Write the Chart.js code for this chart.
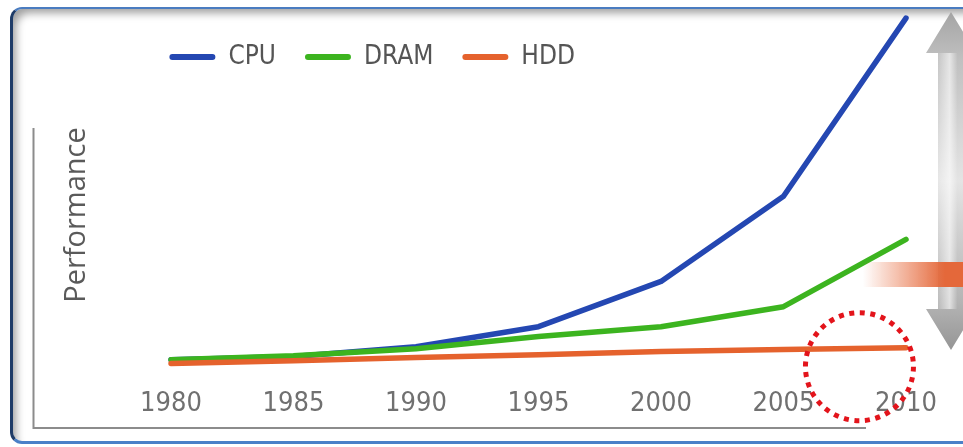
<!DOCTYPE html>
<html>
<head>
<meta charset="utf-8">
<script src="https://cdn.jsdelivr.net/npm/chart.js@4.4.1/dist/chart.umd.min.js"></script>
<style>
  html, body { margin: 0; padding: 0; background: #fff; overflow: hidden; width: 963px; height: 447px; }
  #frame {
    position: absolute; left: 10px; top: 7px; width: 1000px; height: 432px;
    border-top: 2px solid #4a7cc0; border-left: 3px solid #1f3c68; border-bottom: 3px solid #4a80c8;
    border-radius: 12px; background: #fff;
    box-shadow: inset 7px 8px 9px -4px rgba(0, 0, 0, 0.38);
  }
  #c { position: absolute; left: 0; top: 0; }
</style>
</head>
<body>
<div id="frame"></div>
<canvas id="c" width="963" height="447"></canvas>
<script>
// Years on the horizontal axis
const years = [1980, 1985, 1990, 1995, 2000, 2005, 2010];
// Relative performance of each component
const cpu  = [2.0, 2.9, 5.7, 11.4, 24.3, 48.6, 99.4];
const dram = [2.0, 3.1, 5.1, 8.6, 11.4, 17.1, 36.3];
const hdd  = [0.9, 1.7, 2.6, 3.4, 4.3, 4.9, 5.4];
const seriesNames  = ['CPU', 'DRAM', 'HDD'];
const seriesColors = ['#2447b2', '#3cb41f', '#e5622d'];
const axisTitle = 'Performance';

const condensed = "'DejaVu Sans Condensed', 'DejaVu Sans', sans-serif";

function toPoints(values) {
  return values.map((v, i) => ({ x: years[i], y: v }));
}

function makeDataset(idx, values, order) {
  return {
    label: seriesNames[idx],
    data: toPoints(values),
    borderColor: seriesColors[idx],
    backgroundColor: seriesColors[idx],
    borderWidth: 5.5,
    borderCapStyle: 'round',
    borderJoinStyle: 'round',
    pointRadius: 0,
    pointHoverRadius: 0,
    tension: 0,
    fill: false,
    clip: false,
    order: order
  };
}

function arrowPath(ctx, cx, top, bottom, headW, shaftW, headH) {
  ctx.beginPath();
  ctx.moveTo(cx, top);
  ctx.lineTo(cx + headW / 2, top + headH);
  ctx.lineTo(cx + shaftW / 2, top + headH);
  ctx.lineTo(cx + shaftW / 2, bottom - headH);
  ctx.lineTo(cx + headW / 2, bottom - headH);
  ctx.lineTo(cx, bottom);
  ctx.lineTo(cx - headW / 2, bottom - headH);
  ctx.lineTo(cx - shaftW / 2, bottom - headH);
  ctx.lineTo(cx - shaftW / 2, top + headH);
  ctx.lineTo(cx - headW / 2, top + headH);
  ctx.closePath();
}

// The legend row sits over the top of the plot: it takes almost no layout
// height, so widen its clip box back to the full row after layout.
const legendOverlay = {
  id: 'legendOverlay',
  afterLayout(chart) {
    const lg = chart.legend;
    if (lg) lg.bottom = lg.top + 80;
  }
};

// Framing lines, the double arrow, the highlight band and the dotted ring
const decorations = {
  id: 'decorations',
  beforeDatasetsDraw(chart) {
    const ctx = chart.ctx;
    ctx.save();
    ctx.strokeStyle = '#8c8c8c';
    ctx.lineWidth = 2;
    ctx.beginPath();
    ctx.moveTo(33.5, 128);
    ctx.lineTo(33.5, 428);
    ctx.lineTo(866, 428);
    ctx.stroke();
    ctx.restore();
  },
  afterDatasetsDraw(chart) {
    const ctx = chart.ctx;
    const { x, y } = chart.scales;
    ctx.save();

    // double-headed arrow
    const top = 12, bottom = 350, cx = 951;
    const vg = ctx.createLinearGradient(0, top, 0, bottom);
    vg.addColorStop(0, '#a4a4a4');
    vg.addColorStop(0.14, '#c0c0c0');
    vg.addColorStop(0.5, '#e4e4e4');
    vg.addColorStop(0.86, '#b4b4b4');
    vg.addColorStop(1, '#959595');
    arrowPath(ctx, cx, top, bottom, 50, 26, 41);
    ctx.fillStyle = vg;
    ctx.fill();
    const hg = ctx.createLinearGradient(cx - 13, 0, cx + 13, 0);
    hg.addColorStop(0, 'rgba(255,255,255,0.1)');
    hg.addColorStop(0.45, 'rgba(255,255,255,0.6)');
    hg.addColorStop(0.75, 'rgba(255,255,255,0)');
    ctx.fillStyle = hg;
    ctx.fillRect(cx - 13, top + 41, 26, bottom - top - 82);

    // fading highlight band
    const bg = ctx.createLinearGradient(863, 0, 945, 0);
    bg.addColorStop(0, 'rgba(232,106,60,0)');
    bg.addColorStop(1, 'rgba(228,104,58,1)');
    ctx.fillStyle = bg;
    ctx.fillRect(863, 262, 100, 25);

    // dotted ring
    ctx.beginPath();
    ctx.arc(x.getPixelForValue(2008.1), y.getPixelForValue(0), 54, 0, Math.PI * 2);
    ctx.strokeStyle = '#e3141b';
    ctx.lineWidth = 5;
    ctx.setLineDash([5, 5.6]);
    ctx.lineCap = 'butt';
    ctx.stroke();
    ctx.restore();
  }
};

new Chart(document.getElementById('c'), {
  type: 'line',
  data: {
    datasets: [
      makeDataset(0, cpu, 3),
      makeDataset(1, dram, 2),
      makeDataset(2, hdd, 1)
    ]
  },
  options: {
    responsive: false,
    animation: false,
    events: [],
    layout: { padding: { left: 40, right: 57, top: 15, bottom: 25 } },
    scales: {
      x: {
        type: 'linear',
        min: 1978.75,
        max: 2010,
        afterBuildTicks: (scale) => { scale.ticks = years.map(v => ({ value: v })); },
        grid: { display: false },
        border: { display: false },
        ticks: {
          callback: (v) => String(v),
          font: { family: condensed, size: 27, lineHeight: 0.72 },
          color: '#707070',
          mirror: true,
          padding: 0,
          maxRotation: 0,
          autoSkip: false
        }
      },
      y: {
        min: -13.5,
        max: 100,
        grid: { display: false },
        border: { display: false },
        ticks: { display: false },
        title: {
          display: true,
          text: axisTitle,
          font: { family: "'Open Sans', sans-serif", size: 29 },
          color: '#5a5a5a',
          padding: { top: 19.6, bottom: 38 }
        }
      }
    },
    plugins: {
      tooltip: { enabled: false },
      legend: {
        position: 'top',
        align: 'start',
        fullSize: false,
        maxHeight: 1,
        labels: {
          boxWidth: 46,
          boxHeight: 6,
          padding: 29,
          color: '#555555',
          font: { family: condensed, size: 26 },
          sort: (a, b) => a.datasetIndex - b.datasetIndex,
          generateLabels: (chart) =>
            Chart.defaults.plugins.legend.labels.generateLabels(chart).map(item => ({
              ...item,
              fillStyle: item.strokeStyle,
              lineWidth: 0,
              borderRadius: 3
            }))
        }
      }
    }
  },
  plugins: [legendOverlay, decorations]
});
</script>
</body>
</html>
